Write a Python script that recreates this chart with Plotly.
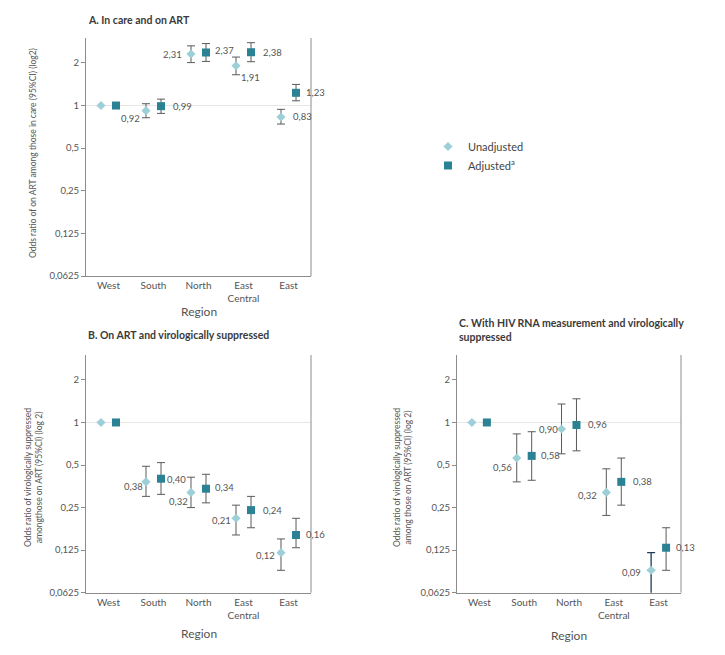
import numpy as np
import plotly.graph_objects as go

# ---------------- data ----------------
regions = ["West", "South", "North", "East<br>Central", "East"]

a_unadj = [1, 0.92, 2.31, 1.91, 0.83]
a_unadj_lo = [None, 0.82, 2.01, 1.65, 0.74]
a_unadj_hi = [None, 1.03, 2.64, 2.20, 0.94]
a_adj = [1, 0.99, 2.37, 2.38, 1.23]
a_adj_lo = [None, 0.88, 2.05, 2.04, 1.08]
a_adj_hi = [None, 1.11, 2.74, 2.78, 1.41]

b_unadj = [1, 0.38, 0.32, 0.21, 0.12]
b_unadj_lo = [None, 0.30, 0.25, 0.16, 0.09]
b_unadj_hi = [None, 0.49, 0.41, 0.26, 0.15]
b_adj = [1, 0.40, 0.34, 0.24, 0.16]
b_adj_lo = [None, 0.31, 0.27, 0.18, 0.13]
b_adj_hi = [None, 0.52, 0.43, 0.30, 0.21]

c_unadj = [1, 0.56, 0.90, 0.32, 0.09]
c_unadj_lo = [None, 0.38, 0.60, 0.22, 0.06]
c_unadj_hi = [None, 0.83, 1.35, 0.47, 0.12]
c_adj = [1, 0.58, 0.96, 0.38, 0.13]
c_adj_lo = [None, 0.39, 0.63, 0.26, 0.09]
c_adj_hi = [None, 0.86, 1.47, 0.56, 0.18]

y_tickvals = [0.0625, 0.125, 0.25, 0.5, 1, 2]
y_ticktext = ["0,0625", "0,125", "0,25", "0,5", "1", "2"]

# label placement (style): (xanchor, xshift, yshift) per point, None = no label
lab_a_u = [None, ("right", -4, -8), ("right", -7, 0), ("left", 3, -12), ("left", 10, 0)]
lab_a_a = [None, ("left", 10, 0), ("left", 7, 2), ("left", 10, 0), ("left", 8, 0)]
lab_b_u = [None, ("right", -1, -5), ("right", -1, -9), ("right", -3, -2), ("right", -4, -3)]
lab_b_a = [None, ("left", 4, -1), ("left", 7, 1), ("left", 10, 0), ("left", 8, 0)]
lab_c_u = [None, ("right", -3, -9), ("right", -2, -1), ("right", -7, -3), ("right", -8, -2)]
lab_c_a = [None, ("left", 7, 0), ("left", 10, 0), ("left", 10, 0), ("left", 8, 0)]

# ---------------- style ----------------
W, H = 725, 655
FONT = "Lato"
C_UN = "#9ccfd8"
C_AD = "#2b8294"
C_ERR = "#5a5a5a"
C_ERR_DARK = "#1f3b58"
C_TXT = "#555555"
C_AX = "#8c8c8c"
OFF = 0.167

def px_x(p):
    return p / W

def px_y(p):
    return 1 - p / H

panels = [
    dict(x0=86, x1=311, y0=38, y1=276),
    dict(x0=86, x1=311, y0=355, y1=592.7),
    dict(x0=457, x1=681, y0=355, y1=592.7),
]

YR = [np.log10(0.0625), np.log10(3.0)]

fig = go.Figure()

def err(vals, lo, hi):
    up = [0 if h is None else h - v for v, h in zip(vals, hi)]
    dn = [0 if l is None else v - l for v, l in zip(vals, lo)]
    return up, dn

def fmt(v):
    return f"{v:.2f}".replace(".", ",")

datasets = [
    (a_unadj, a_unadj_lo, a_unadj_hi, a_adj, a_adj_lo, a_adj_hi, lab_a_u, lab_a_a),
    (b_unadj, b_unadj_lo, b_unadj_hi, b_adj, b_adj_lo, b_adj_hi, lab_b_u, lab_b_a),
    (c_unadj, c_unadj_lo, c_unadj_hi, c_adj, c_adj_lo, c_adj_hi, lab_c_u, lab_c_a),
]

idx = np.arange(len(regions))
annotations = []

for k, (u, ulo, uhi, a, alo, ahi, lu, la) in enumerate(datasets):
    sfx = "" if k == 0 else str(k + 1)
    xr, yr = "x" + sfx, "y" + sfx
    uu, ud = err(u, ulo, uhi)
    au, ad = err(a, alo, ahi)
    if k == 2:
        dark_idx = 4
        fig.add_trace(go.Scatter(
            x=[idx[dark_idx] - OFF], y=[u[dark_idx]], mode="markers",
            marker=dict(size=1, opacity=0),
            error_y=dict(type="data", array=[uu[dark_idx]], arrayminus=[ud[dark_idx]],
                         color=C_ERR_DARK, thickness=1.3, width=4),
            showlegend=False, xaxis=xr, yaxis=yr, hoverinfo="skip", cliponaxis=False))
        uu = [0 if i == dark_idx else v for i, v in enumerate(uu)]
        ud = [0 if i == dark_idx else v for i, v in enumerate(ud)]
    fig.add_trace(go.Scatter(
        x=idx - OFF, y=u, mode="markers", name="Unadjusted",
        marker=dict(symbol="diamond", size=7, color=C_UN),
        error_y=dict(type="data", array=uu, arrayminus=ud, color=C_ERR, thickness=1, width=4),
        showlegend=(k == 0), legendgroup="u", xaxis=xr, yaxis=yr, cliponaxis=False))
    fig.add_trace(go.Scatter(
        x=idx + OFF, y=a, mode="markers", name="Adjusted<sup>a</sup>",
        marker=dict(symbol="square", size=8, color=C_AD),
        error_y=dict(type="data", array=au, arrayminus=ad, color=C_ERR, thickness=1, width=4),
        showlegend=(k == 0), legendgroup="a", xaxis=xr, yaxis=yr, cliponaxis=False))

    for vals, labs, off in ((u, lu, -OFF), (a, la, OFF)):
        for i, (v, lp) in enumerate(zip(vals, labs)):
            if lp is None:
                continue
            anchor, dx, dy = lp
            annotations.append(dict(
                x=idx[i] + off, y=np.log10(v), xref=xr, yref=yr, text=fmt(v),
                showarrow=False, xanchor=anchor, yanchor="middle",
                xshift=dx, yshift=dy, font=dict(family=FONT, size=9.5, color=C_TXT)))

    p = panels[k]
    xd = [px_x(p["x0"]), px_x(p["x1"])]
    yd = [px_y(p["y1"]), px_y(p["y0"])]
    fig.update_layout(**{
        "xaxis" + sfx: dict(domain=xd, range=[-0.5, 4.5], tickvals=list(idx), ticktext=regions,
                            showline=True, linecolor=C_AX, linewidth=1, showgrid=False,
                            zeroline=False, ticks="", anchor=yr, automargin=False,
                            tickfont=dict(family=FONT, size=10, color=C_TXT)),
        "yaxis" + sfx: dict(domain=yd, type="log", range=YR, tickvals=y_tickvals,
                            ticktext=y_ticktext, showline=True, linecolor=C_AX, linewidth=1,
                            showgrid=False, zeroline=False, ticks="outside", ticklen=4,
                            tickcolor=C_AX, anchor=xr, automargin=False,
                            tickfont=dict(family=FONT, size=9.5, color=C_TXT)),
    })
    # right border line and reference line at OR = 1
    fig.add_shape(type="line", xref=xr + " domain", yref=yr + " domain",
                  x0=1, x1=1, y0=0, y1=1, line=dict(color=C_AX, width=1))
    y_one = (0 - YR[0]) / (YR[1] - YR[0])
    fig.add_shape(type="line", xref=xr + " domain", yref=yr + " domain",
                  x0=0, x1=1, y0=y_one, y1=y_one, line=dict(color="#e6e6e6", width=1),
                  layer="below")

# titles
title_font = dict(family=FONT, size=10.5, color="#3a3a3a")
annotations += [
    dict(x=px_x(86), y=px_y(20), xref="paper", yref="paper", xanchor="left", yanchor="middle",
         text="<b>A. In care and on ART</b>", showarrow=False, font=title_font),
    dict(x=px_x(86), y=px_y(335), xref="paper", yref="paper", xanchor="left", yanchor="middle",
         text="<b>B. On ART and virologically suppressed</b>", showarrow=False, font=title_font),
    dict(x=px_x(457), y=px_y(330), xref="paper", yref="paper", xanchor="left", yanchor="middle",
         align="left",
         text="<b>C. With HIV RNA measurement and virologically<br>suppressed</b>",
         showarrow=False, font=title_font),
]

# axis titles
yt_font = dict(family=FONT, size=8.5, color=C_TXT)
annotations += [
    dict(x=px_x(33), y=px_y(153), xref="paper", yref="paper", textangle=-90,
         xanchor="center", yanchor="middle",
         text="Odds ratio of on ART among those in care (95%CI) (log2)",
         showarrow=False, font=yt_font),
    dict(x=px_x(33), y=px_y(478), xref="paper", yref="paper", textangle=-90,
         xanchor="center", yanchor="middle",
         text="Odds ratio of virologically suppressed<br>amongthose on ART (95%CI) (log 2)",
         showarrow=False, font=yt_font),
    dict(x=px_x(402), y=px_y(478), xref="paper", yref="paper", textangle=-90,
         xanchor="center", yanchor="middle",
         text="Odds ratio of virologically suppressed<br>among those on ART (95%CI) (log 2)",
         showarrow=False, font=yt_font),
]
xt_font = dict(family=FONT, size=12, color=C_TXT)
for cx, cy in ((198.5, 311), (198.5, 633), (569, 635)):
    annotations.append(dict(x=px_x(cx), y=px_y(cy), xref="paper", yref="paper",
                            xanchor="center", yanchor="middle",
                            text="Region", showarrow=False, font=xt_font))

fig.update_layout(
    width=W, height=H, autosize=False,
    margin=dict(l=0, r=0, t=0, b=0),
    paper_bgcolor="white", plot_bgcolor="white",
    font=dict(family=FONT, color=C_TXT),
    annotations=annotations,
    legend=dict(x=px_x(428), y=px_y(132), xanchor="left", yanchor="top",
                font=dict(family=FONT, size=11, color="#444444"),
                bgcolor="rgba(0,0,0,0)", tracegroupgap=0, itemsizing="trace",
                itemwidth=30),
)

fig.write_html("out.html", config={"displayModeBar": False},
               post_script="document.body.style.margin='0';")
